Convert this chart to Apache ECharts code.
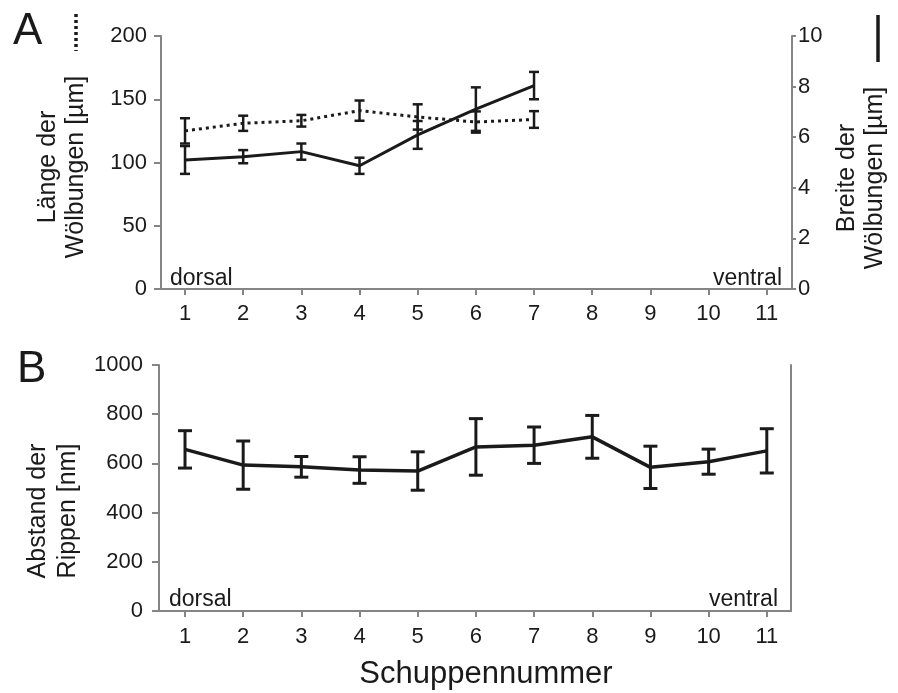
<!DOCTYPE html>
<html>
<head>
<meta charset="utf-8">
<script src="https://cdn.jsdelivr.net/npm/echarts@6/dist/echarts.min.js"></script>
<style>
  html, body { margin: 0; padding: 0; background: #fff; }
  #chart { width: 898px; height: 693px; }
</style>
</head>
<body>
<div id="chart"></div>
<script>
// Schuppennummer (scale number)
var scaleNums = [1, 2, 3, 4, 5, 6, 7, 8, 9, 10, 11];
var topNums = [1, 2, 3, 4, 5, 6, 7];

// A: Länge der Wölbungen [µm] (dotted, left axis)
var laengeMean = [125, 131, 133, 141, 136, 132, 134];
var laengeErr = [10, 6, 4.6, 8, 10, 8.4, 6.6];

// A: Breite der Wölbungen [µm] (solid, right axis)
var breiteMean = [5.10, 5.23, 5.43, 4.87, 6.09, 7.11, 8.04];
var breiteErr = [0.55, 0.26, 0.32, 0.32, 0.55, 0.86, 0.54];

// B: Abstand der Rippen [nm]
var abstandMean = [657, 593, 586, 573, 569, 667, 674, 708, 584, 607, 651];
var abstandErr = [76, 98, 42, 54, 78, 115, 74, 87, 86, 51, 90];

var FONT = "'Liberation Sans', Arial, sans-serif";
var INK = '#1a1a1a';
var AXIS = '#858585';

function pairs(xs, ys) {
  return xs.map(function (x, i) { return [x, ys[i]]; });
}
function errRows(xs, m, e) {
  return xs.map(function (x, i) { return [x, m[i] - e[i], m[i] + e[i]]; });
}
function plain(v) {
  return String(v);
}

// error bar drawn with the axis scales
function errorBar(cap, lw) {
  return function (params, api) {
    var x = api.value(0);
    var lo = api.coord([x, api.value(1)]);
    var hi = api.coord([x, api.value(2)]);
    var st = { stroke: INK, lineWidth: lw };
    return {
      type: 'group',
      children: [
        { type: 'line', shape: { x1: hi[0], y1: hi[1], x2: lo[0], y2: lo[1] }, style: st },
        { type: 'line', shape: { x1: hi[0] - cap, y1: hi[1], x2: hi[0] + cap, y2: hi[1] }, style: st },
        { type: 'line', shape: { x1: lo[0] - cap, y1: lo[1], x2: lo[0] + cap, y2: lo[1] }, style: st }
      ]
    };
  };
}

function xAxisOpt(grid, min, max, margin) {
  return {
    gridIndex: grid,
    type: 'value',
    min: min,
    max: max,
    splitLine: { show: false },
    axisLine: { lineStyle: { color: AXIS, width: 2 } },
    axisTick: { customValues: scaleNums, length: 6, lineStyle: { color: AXIS, width: 2 } },
    axisLabel: {
      customValues: scaleNums, margin: margin, formatter: plain,
      color: INK, fontSize: 22, fontFamily: FONT
    }
  };
}

function yAxisOpt(grid, pos, max, interval, margin, tickLen) {
  return {
    gridIndex: grid,
    type: 'value',
    position: pos,
    min: 0,
    max: max,
    interval: interval,
    splitLine: { show: false },
    axisLine: { show: true, lineStyle: { color: AXIS, width: 2 } },
    axisTick: { show: true, length: tickLen, lineStyle: { color: AXIS, width: 2 } },
    axisLabel: { margin: margin, formatter: plain, color: INK, fontSize: 22, fontFamily: FONT }
  };
}

function txt(x, y, s, size, align, rot, lh) {
  return {
    type: 'text',
    x: x, y: y,
    rotation: rot || 0,
    style: {
      text: s,
      font: size + 'px ' + FONT,
      fill: INK,
      align: align || 'left',
      verticalAlign: 'middle',
      lineHeight: lh || size
    }
  };
}

var myChart = echarts.init(document.getElementById('chart'));
var option = {
  backgroundColor: '#fff',
  animation: false,
  grid: [
    { left: 161, right: 106, top: 36, height: 253 },
    { left: 159, right: 107, top: 365, height: 246 }
  ],
  xAxis: [
    xAxisOpt(0, 0.587, 11.435, 14),
    xAxisOpt(1, 0.553, 11.416, 15)
  ],
  yAxis: [
    yAxisOpt(0, 'left', 200, 50, 14, 7),
    yAxisOpt(0, 'right', 10, 2, 6, 4),
    yAxisOpt(1, 'left', 1000, 200, 16, 7),
    {
      gridIndex: 1, type: 'value', position: 'right', min: 0, max: 1000,
      splitLine: { show: false },
      axisLine: { show: true, lineStyle: { color: AXIS, width: 2 } },
      axisTick: { show: false },
      axisLabel: { show: false }
    }
  ],
  series: [
    {
      name: 'Länge',
      type: 'line',
      xAxisIndex: 0, yAxisIndex: 0,
      data: pairs(topNums, laengeMean),
      symbol: 'none',
      lineStyle: { color: INK, width: 3, type: [3, 4] },
      z: 3
    },
    {
      type: 'custom',
      xAxisIndex: 0, yAxisIndex: 0,
      data: errRows(topNums, laengeMean, laengeErr),
      renderItem: errorBar(5, 2.5),
      z: 4
    },
    {
      name: 'Breite',
      type: 'line',
      xAxisIndex: 0, yAxisIndex: 1,
      data: pairs(topNums, breiteMean),
      symbol: 'none',
      lineStyle: { color: INK, width: 3 },
      z: 3
    },
    {
      type: 'custom',
      xAxisIndex: 0, yAxisIndex: 1,
      data: errRows(topNums, breiteMean, breiteErr),
      renderItem: errorBar(5, 2.5),
      z: 4
    },
    {
      name: 'Abstand',
      type: 'line',
      xAxisIndex: 1, yAxisIndex: 2,
      data: pairs(scaleNums, abstandMean),
      symbol: 'none',
      lineStyle: { color: INK, width: 3.5 },
      z: 3
    },
    {
      type: 'custom',
      xAxisIndex: 1, yAxisIndex: 2,
      data: errRows(scaleNums, abstandMean, abstandErr),
      renderItem: errorBar(7, 3),
      z: 4
    }
  ],
  graphic: [
    txt(13, 32, 'A', 44),
    txt(17, 370, 'B', 44),
    // legend marks
    {
      type: 'line',
      shape: { x1: 76, y1: 14, x2: 76, y2: 51 },
      style: { stroke: INK, lineWidth: 3.5, lineDash: [3, 3] }
    },
    {
      type: 'line',
      shape: { x1: 878, y1: 15, x2: 878, y2: 62 },
      style: { stroke: INK, lineWidth: 3.5 }
    },
    // axis names
    txt(62, 167, 'Länge der\nWölbungen [µm]', 25, 'center', Math.PI / 2, 28),
    txt(861.5, 178, 'Breite der\nWölbungen [µm]', 25, 'center', Math.PI / 2, 28),
    txt(53, 511, 'Abstand der\nRippen [nm]', 25, 'center', Math.PI / 2, 30),
    txt(486, 674, 'Schuppennummer', 31, 'center'),
    // direction labels
    txt(170, 279, 'dorsal', 23),
    txt(782, 279, 'ventral', 23, 'right'),
    txt(169, 600, 'dorsal', 23),
    txt(778, 600, 'ventral', 23, 'right')
  ]
};
myChart.setOption(option, true);
window.addEventListener('resize', function () {
  myChart.resize();
});
</script>
</body>
</html>
